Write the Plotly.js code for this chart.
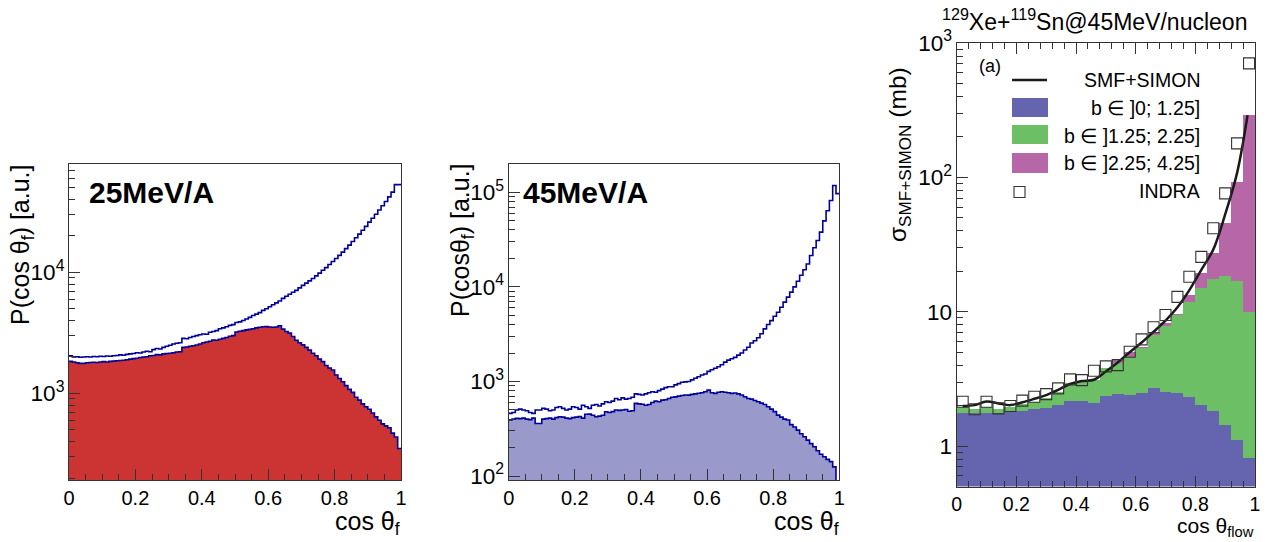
<!DOCTYPE html>
<html><head><meta charset="utf-8">
<script src="https://cdn.plot.ly/plotly-3.0.1.min.js"></script>
<style>html,body{margin:0;padding:0;background:#fff}#plot{width:1270px;height:542px}</style>
</head><body><div id="plot"></div>
<script>
// ---------- data ----------
// 100 bins on cos(theta_f) in [0,1]
const p25Upper = [2050,2000,2010,1990,2000,2010,2000,2020,2010,2030,
  2020,2040,2030,2050,2060,2080,2070,2100,2120,2140,
  2170,2160,2200,2230,2210,2300,2350,2330,2400,2450,
  2500,2560,2600,2620,2850,2830,2900,2950,3000,3050,
  3100,3080,3200,3250,3300,3420,3480,3550,3650,3700,
  3850,3900,4000,4120,4250,4400,4520,4650,4850,5000,
  5200,5400,5600,5800,6100,6350,6600,6850,7100,7450,
  7800,8150,8500,8900,9350,9850,10400,10950,11600,12300,
  13000,13800,14700,15700,16800,18000,19300,20700,22300,24000,
  26000,28000,30200,32700,35500,38500,42000,46000,53000,53000];
const p25Lower = [1840,1820,1790,1770,1770,1790,1800,1810,1800,1820,
  1830,1820,1840,1850,1860,1870,1880,1900,1920,1940,
  1950,1980,2000,2010,2050,2060,2090,2080,2120,2140,
  2150,2170,2200,2210,2400,2420,2450,2480,2510,2560,
  2620,2660,2700,2760,2750,2800,2850,2900,2970,3000,
  3220,3260,3300,3350,3380,3420,3480,3520,3550,3560,
  3540,3520,3540,3620,3400,3250,3150,2950,2750,2620,
  2520,2400,2280,2150,2050,1920,1830,1700,1620,1560,
  1420,1330,1250,1160,1080,1020,930,880,820,776,
  740,690,640,600,560,540,520,470,437,351];
const p45Upper = [460,470,500,510,500,490,470,460,500,500,
  520,510,490,500,530,540,520,500,510,540,
  530,510,560,540,520,560,570,550,580,610,
  600,620,660,640,670,650,660,680,740,730,
  720,740,760,780,770,800,830,860,880,880,
  920,950,980,990,1000,1040,1080,1120,1170,1200,
  1280,1330,1380,1430,1500,1600,1680,1740,1800,1900,
  2000,2150,2300,2550,2700,2900,3200,3600,4000,4400,
  4900,5400,6100,6900,7800,8800,10000,11500,13300,15200,
  17500,21500,26000,31000,38000,50000,64000,82000,118000,97000];
const p45Lower = [391,400,407,405,410,400,395,410,360,360,
  400,405,410,400,415,424,420,410,405,415,
  420,425,410,450,452,440,424,430,440,478,
  470,480,500,495,500,505,485,490,586,580,
  575,560,570,600,620,610,635,640,660,680,
  688,700,710,720,718,730,740,750,759,780,
  810,760,748,770,778,770,760,748,755,740,
  720,690,660,650,630,610,590,570,540,510,
  480,441,420,400,391,350,330,306,280,260,
  240,220,204,185,170,160,150,142,125,70];

// 25 bins on cos(theta_flow) in [0,1] (stack components, mb)
const bLow  = [1.75,1.75,1.75,1.76,1.80,1.82,1.88,1.91,2.02,2.18,2.18,2.10,2.36,2.44,2.40,2.50,2.72,2.54,2.47,2.33,2.02,1.83,1.44,1.12,0.81];
const bMid  = [0.21,0.13,0.21,0.12,0.16,0.24,0.26,0.36,0.52,0.75,0.83,1.00,1.43,1.69,2.22,2.84,3.99,5.29,6.98,9.57,12.98,15.67,17.06,15.88,9.19];
const bHigh = [0,0,0,0,0,0,0,0,0,0,0,0,0,0.29,0.42,0.15,0.39,0.45,0.25,1.4,4.3,9.7,27,75.8,281];
const indra = [2.14,1.88,2.14,1.91,1.99,2.18,2.33,2.44,2.69,3.14,3.10,3.64,3.92,4.01,5.04,6.23,7.66,9.45,12.9,18.2,25.6,41.8,76,179,705];
const smfX = [0.02,0.06,0.1,0.14,0.18,0.22,0.26,0.3,0.34,0.38,0.42,0.46,0.5,0.54,0.58,0.62,0.66,0.7,0.74,0.78,0.82,0.86,0.9,0.94,0.975];
const smfY = [1.99,2.02,2.15,2.08,2.02,2.12,2.25,2.4,2.62,2.9,3.05,3.12,3.6,4.2,5.0,5.9,7.1,8.6,10.8,14.5,20.5,29,53,108,290];

// ---------- helpers ----------
function stepX(n){ const a=[]; for(let i=0;i<=n;i++) a.push(i/n); return a; }
function stepY(v){ return v.concat([v[v.length-1]]); }
function centers(n){ const a=[]; for(let i=0;i<n;i++) a.push((i+0.5)/n); return a; }

const W=1270, H=542;
const X = p => p/W, Y = p => 1 - p/H;
const FONT = 'Liberation Sans, Arial, Helvetica, sans-serif';
const LINE = '#00009a';
const x100 = stepX(100);
const c25 = centers(25);

const traces = [
  {x:x100, y:stepY(p25Lower), xaxis:'x', yaxis:'y', mode:'lines', line:{shape:'hv', color:LINE, width:1.6}, fill:'tozeroy', fillcolor:'#cc3333', hoverinfo:'skip'},
  {x:x100, y:stepY(p25Upper), xaxis:'x', yaxis:'y', mode:'lines', line:{shape:'hv', color:LINE, width:1.6}, hoverinfo:'skip'},
  {x:x100, y:stepY(p45Lower), xaxis:'x2', yaxis:'y2', mode:'lines', line:{shape:'hv', color:LINE, width:1.6}, fill:'tozeroy', fillcolor:'#9999cc', hoverinfo:'skip'},
  {x:x100, y:stepY(p45Upper), xaxis:'x2', yaxis:'y2', mode:'lines', line:{shape:'hv', color:LINE, width:1.6}, hoverinfo:'skip'},
  {type:'bar', x:c25, y:bLow, width:0.04, xaxis:'x3', yaxis:'y3', marker:{color:'#6464af', line:{width:0}}},
  {type:'bar', x:c25, y:bMid, width:0.04, xaxis:'x3', yaxis:'y3', marker:{color:'#6cbf65', line:{width:0}}},
  {type:'bar', x:c25, y:bHigh, width:0.04, xaxis:'x3', yaxis:'y3', marker:{color:'#b767a8', line:{width:0}}},
  {x:smfX, y:smfY, xaxis:'x3', yaxis:'y3', mode:'lines', line:{color:'#1a1a1a', width:2.5, shape:'spline'}},
  {x:c25, y:indra, xaxis:'x3', yaxis:'y3', mode:'markers', marker:{symbol:'square-open', size:11, color:'#333', line:{width:1.1}}}
];

const xTickFont = {family:FONT, size:20, color:'#000'};
const yTickFont = {family:FONT, size:18, color:'#000'};
function xAx(l, r, minorDt, mirror){
  return {domain:[X(l),X(r)], range:[0,1], dtick:0.2, tick0:0, ticks:'inside', ticklen:11, tickcolor:'#333',
    showline:true, linecolor:'#333', linewidth:1, mirror:mirror, showgrid:false, zeroline:false, tickfont:xTickFont,
    minor:{dtick:minorDt, tick0:0, ticks:'inside', ticklen:6, tickcolor:'#333', showgrid:false}, fixedrange:true};
}
function yAx(b, t, range){
  return {type:'log', domain:[Y(b),Y(t)], range:range, dtick:1, exponentformat:'power', ticks:'inside', ticklen:11,
    tickcolor:'#333', showline:true, linecolor:'#333', linewidth:1, mirror:true, showgrid:false, zeroline:false,
    tickfont:yTickFont, minor:{dtick:'D1', ticks:'inside', ticklen:6, tickcolor:'#333', showgrid:false}, fixedrange:true};
}

const xa1 = xAx(69, 401, 0.05, true);  xa1.anchor='y';
const ya1 = yAx(480, 164, [2.285, 4.895]); ya1.anchor='x';
const xa2 = xAx(508.7, 839.3, 0.05, true); xa2.anchor='y2';
const ya2 = yAx(480, 164, [1.958, 5.3]); ya2.anchor='x2';
const xa3 = xAx(956.7, 1255, 0.04, 'ticks'); xa3.anchor='y3';
xa3.tickfont = {family:FONT, size:19.5, color:'#000'};
const ya3 = yAx(486.6, 43, [-0.301, 3]); ya3.anchor='x3';

function ann(text, px, py, opts){
  return Object.assign({text:text, x:X(px), y:Y(py), xref:'paper', yref:'paper', showarrow:false,
    xanchor:'center', yanchor:'middle', font:{family:FONT, size:19.5, color:'#000'}}, opts||{});
}
const annotations = [
  ann('<b>25MeV/A</b>', 87, 193, {xanchor:'left', font:{family:FONT, size:30, color:'#000'}}),
  ann('<b>45MeV/A</b>', 521, 192, {xanchor:'left', font:{family:FONT, size:30, color:'#000'}}),
  ann('P(cos θ<sub>f</sub>) [a.u.]', 22, 245, {textangle:-90, font:{family:FONT, size:25, color:'#000'}}),
  ann('P(cosθ<sub>f</sub>) [a.u.]', 462, 240, {textangle:-90, font:{family:FONT, size:25, color:'#000'}}),
  ann('cos θ<sub>f</sub>', 402, 523, {xanchor:'right', font:{family:FONT, size:25, color:'#000'}}),
  ann('cos θ<sub>f</sub>', 841, 523, {xanchor:'right', font:{family:FONT, size:25, color:'#000'}}),
  ann('cos θ<sub>flow</sub>', 1256, 542, {xanchor:'right', yanchor:'bottom', font:{family:FONT, size:21, color:'#000'}}),
  ann('<sup>129</sup>Xe+<sup>119</sup>Sn@45MeV/nucleon', 1094, 20, {font:{family:FONT, size:23, color:'#000'}}),
  ann('σ<sub>SMF+SIMON</sub> (mb)', 899, 155, {textangle:-90, font:{family:FONT, size:24.5, color:'#000'}}),
  ann('(a)', 977, 66, {xanchor:'left', font:{family:FONT, size:18, color:'#000'}}),
  ann('SMF+SIMON', 1202, 80, {xanchor:'right'}),
  ann('b ∈ ]0; 1.25]', 1202, 108, {xanchor:'right'}),
  ann('b ∈ ]1.25; 2.25]', 1202, 136, {xanchor:'right'}),
  ann('b ∈ ]2.25; 4.25]', 1202, 163, {xanchor:'right'}),
  ann('INDRA', 1202, 191, {xanchor:'right'})
];

function rect(x0,y0,x1,y1,fill,line){
  return {type:'rect', xref:'paper', yref:'paper', x0:X(x0), x1:X(x1), y0:Y(y1), y1:Y(y0),
    fillcolor:fill||'rgba(0,0,0,0)', line:line||{width:0}};
}
const shapes = [
  {type:'line', xref:'paper', yref:'paper', x0:X(1012), x1:X(1047), y0:Y(80), y1:Y(80), line:{color:'#1a1a1a', width:2.5}},
  rect(1012, 98, 1048, 117, '#6464af'),
  rect(1012, 125, 1048, 144, '#6cbf65'),
  rect(1012, 153, 1048, 173, '#b767a8'),
  rect(1014, 186.5, 1025, 197.5, null, {color:'#333', width:1.1})
];

const layout = {
  width:W, height:H, margin:{l:0, r:0, t:0, b:0}, paper_bgcolor:'#fff', plot_bgcolor:'#fff',
  showlegend:false, barmode:'stack', bargap:0, hovermode:false, font:{family:FONT},
  xaxis:xa1, yaxis:ya1, xaxis2:xa2, yaxis2:ya2, xaxis3:xa3, yaxis3:ya3,
  annotations:annotations, shapes:shapes
};
Plotly.newPlot('plot', traces, layout, {staticPlot:true, displayModeBar:false});
</script></body></html>
